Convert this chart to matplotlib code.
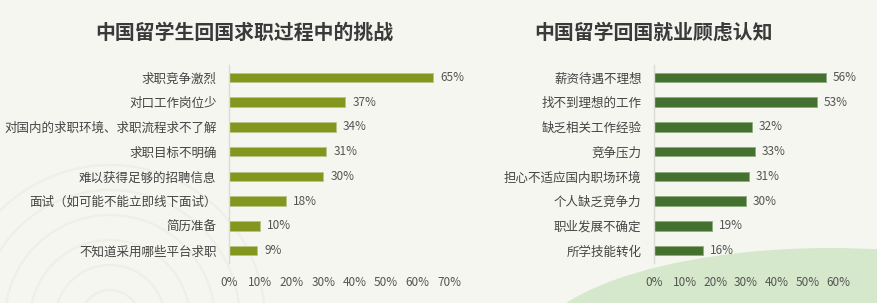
import matplotlib
matplotlib.use("Agg")
import matplotlib.pyplot as plt
from matplotlib.patches import Ellipse

plt.rcParams['font.family'] = ['Noto Sans CJK SC', 'DejaVu Sans']

left_title = "中国留学生回国求职过程中的挑战"
left_cats = ["求职竞争激烈", "对口工作岗位少", "对国内的求职环境、求职流程求不了解", "求职目标不明确",
             "难以获得足够的招聘信息", "面试（如可能不能立即线下面试）", "简历准备", "不知道采用哪些平台求职"]
left_vals = [65, 37, 34, 31, 30, 18, 10, 9]
left_ticks = [0, 10, 20, 30, 40, 50, 60, 70]

right_title = "中国留学回国就业顾虑认知"
right_cats = ["薪资待遇不理想", "找不到理想的工作", "缺乏相关工作经验", "竞争压力",
              "担心不适应国内职场环境", "个人缺乏竞争力", "职业发展不确定", "所学技能转化"]
right_vals = [56, 53, 32, 33, 31, 30, 19, 16]
right_ticks = [0, 10, 20, 30, 40, 50, 60]

W, H = 877, 303
bg = "#f4f6ef"
fig = plt.figure(figsize=(W / 100, H / 100), dpi=100, facecolor=bg)

# background decoration
fig.patches.append(Ellipse((830 / W, 1 - 353 / H), 600 / W, 210 / H,
                           transform=fig.transFigure, facecolor="#d6e8cb",
                           edgecolor="none", zorder=-5))
for r in [30, 55, 80, 105, 130, 155]:
    fig.patches.append(Ellipse((110 / W, 1 - 320 / H), 2 * r / W, 2 * r / H,
                               transform=fig.transFigure, facecolor="none",
                               edgecolor="#eef0e8", linewidth=1.6, zorder=-5))


def panel(x0, x1, cats, vals, ticks, color, edge, title, title_x):
    bottom = 1 - 263 / H
    height = 198 / H
    ax = fig.add_axes([x0 / W, bottom, (x1 - x0) / W, height])
    ax.set_facecolor("none")
    y = list(range(len(cats)))
    ax.barh(y, vals, height=0.38, color=color, edgecolor=edge,
            linewidth=0.6, zorder=2)
    ax.set_ylim(len(cats) - 0.5, -0.5)
    ax.set_xlim(ticks[0], ticks[-1])
    ax.set_yticks(y)
    ax.set_yticklabels(cats, fontsize=9, color="#444444")
    ax.set_xticks(ticks)
    ax.set_xticklabels([f"{t}%" for t in ticks], fontsize=8.5, color="#555555")
    ax.tick_params(axis="both", length=0)
    ax.tick_params(axis="y", pad=9)
    ax.tick_params(axis="x", pad=9)
    for s in ["top", "right", "bottom"]:
        ax.spines[s].set_visible(False)
    ax.spines["left"].set_color("#dcdcd6")
    ax.spines["left"].set_linewidth(1.0)
    for yi, v in zip(y, vals):
        ax.annotate(f"{v}%", (v, yi), xytext=(5, 0), textcoords="offset points",
                    va="center", ha="left", fontsize=8.5, color="#555555")
    fig.text(title_x / W, 1 - 32 / H, title, ha="center", va="center",
             fontsize=14.3, fontweight="bold", color="#3a3a3a")
    return ax


panel(229, 449, left_cats, left_vals, left_ticks, "#85961f", "#b9c48a", left_title, 244)
panel(654, 838, right_cats, right_vals, right_ticks, "#44712f", "#8fab80", right_title, 654)

fig.savefig("out.png", dpi=100, facecolor=bg)
